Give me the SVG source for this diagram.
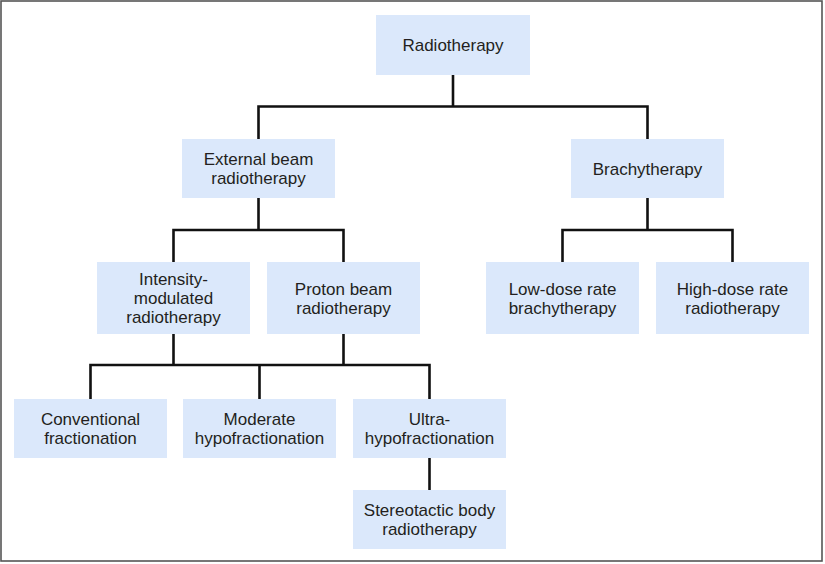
<svg xmlns="http://www.w3.org/2000/svg" width="825" height="564" viewBox="0 0 825 564">
<style>
.box{fill:#dbe8fb;}
.lbl{font-family:"Liberation Sans",Arial,sans-serif;font-size:17px;fill:#231f20;text-anchor:middle;}
.conn{fill:none;stroke:#111;stroke-width:2.6;stroke-linejoin:miter;stroke-linecap:butt;}
</style>
<rect x="0" y="0" width="825" height="564" fill="#ffffff"/>
<rect x="1" y="1" width="821" height="560" fill="none" stroke="#555" stroke-width="1.6"/>
<g id="connectors">
<path class="conn" d="M453,75 V106.5 M258.5,139 V106.5 H647.5 V139"/>
<path class="conn" d="M258.5,198 V230 M173.5,262 V230 H343.5 V262"/>
<path class="conn" d="M647.5,198 V230 M562.5,262 V230 H732.5 V262"/>
<path class="conn" d="M173.5,334 V365 M343.5,334 V365 M90.5,399 V365 H429.5 V399 M259.5,365 V399"/>
<path class="conn" d="M429.5,458 V490"/>
</g>
<g id="radiotherapy">
<rect class="box" x="376" y="15" width="154" height="60"/>
<text class="lbl" x="453" y="51">Radiotherapy</text>
</g>
<g id="ebrt">
<rect class="box" x="182" y="139" width="153" height="59"/>
<text class="lbl" x="258.5" y="164.5">External beam</text>
<text class="lbl" x="258.5" y="183.5">radiotherapy</text>
</g>
<g id="brachytherapy">
<rect class="box" x="571" y="139" width="153" height="59"/>
<text class="lbl" x="647.5" y="174.5">Brachytherapy</text>
</g>
<g id="imrt">
<rect class="box" x="97" y="262" width="153" height="72"/>
<text class="lbl" x="173.5" y="285">Intensity-</text>
<text class="lbl" x="173.5" y="304">modulated</text>
<text class="lbl" x="173.5" y="323">radiotherapy</text>
</g>
<g id="proton">
<rect class="box" x="267" y="262" width="153" height="72"/>
<text class="lbl" x="343.5" y="294.5">Proton beam</text>
<text class="lbl" x="343.5" y="313.5">radiotherapy</text>
</g>
<g id="ldr">
<rect class="box" x="486" y="262" width="153" height="72"/>
<text class="lbl" x="562.5" y="294.5">Low-dose rate</text>
<text class="lbl" x="562.5" y="313.5">brachytherapy</text>
</g>
<g id="hdr">
<rect class="box" x="656" y="262" width="153" height="72"/>
<text class="lbl" x="732.5" y="294.5">High-dose rate</text>
<text class="lbl" x="732.5" y="313.5">radiotherapy</text>
</g>
<g id="conventional">
<rect class="box" x="14" y="399" width="153" height="59"/>
<text class="lbl" x="90.5" y="424.5">Conventional</text>
<text class="lbl" x="90.5" y="443.5">fractionation</text>
</g>
<g id="moderate">
<rect class="box" x="183" y="399" width="153" height="59"/>
<text class="lbl" x="259.5" y="424.5">Moderate</text>
<text class="lbl" x="259.5" y="443.5">hypofractionation</text>
</g>
<g id="ultra">
<rect class="box" x="353" y="399" width="153" height="59"/>
<text class="lbl" x="429.5" y="424.5">Ultra-</text>
<text class="lbl" x="429.5" y="443.5">hypofractionation</text>
</g>
<g id="sbrt">
<rect class="box" x="353" y="490" width="153" height="59"/>
<text class="lbl" x="429.5" y="515.5">Stereotactic body</text>
<text class="lbl" x="429.5" y="534.5">radiotherapy</text>
</g>
</svg>
